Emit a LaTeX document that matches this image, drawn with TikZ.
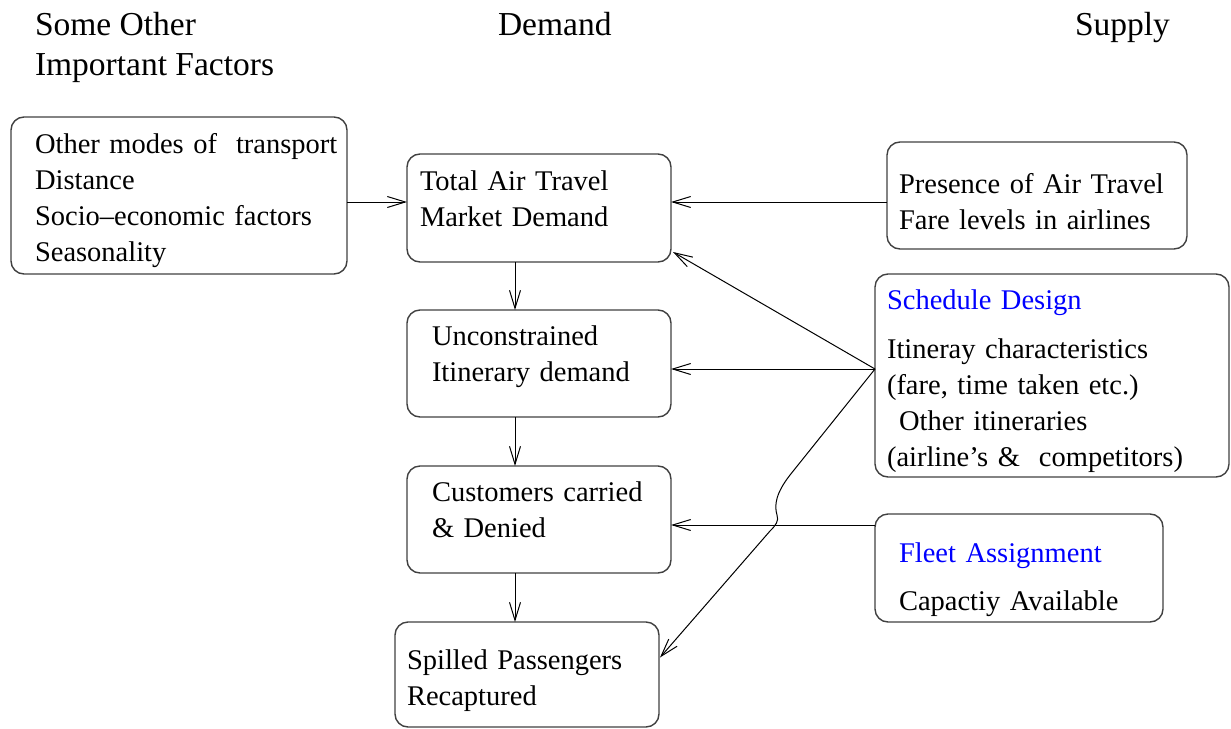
\documentclass[tikz,border=0pt]{standalone}
\usepackage{fontspec}
\setmainfont{Liberation Serif}
\usetikzlibrary{arrows.meta,calc}

\begin{document}
\begin{tikzpicture}[x=0.5pt, y=-0.5pt, auto, outer sep=0pt, >={Straight Barb[length=9pt,width=5.5pt]},
  box/.style={draw=black!75, line width=0.7pt, rounded corners=6.5pt, anchor=north west,
    align=left, inner ysep=0pt, font=\fontsize{14.25pt}{18pt}\selectfont},
  head/.style={anchor=north west, align=left, inner sep=0pt, font=\fontsize{16.75pt}{20pt}\selectfont},
  link/.style={->, line width=0.5pt}]

\useasboundingbox (0, 0) rectangle (1231, 728);

% column headings
\node[head] at (35, 12) (H_OTHER) {Some Other\\Important Factors};
\node[head] at (498, 12) (H_DEMAND) {Demand};
\node[head] at (1075, 12) (H_SUPPLY) {Supply};

% demand chain
\node[box, text width=144pt, inner xsep=12pt, text height=18pt, text depth=60.5pt] at (11, 117) (FACTORS)
  {\mbox{Other modes of\ \ transport}\\Distance\\Socio--economic factors\\Seasonality};
\node[box, text width=119pt, inner xsep=6.5pt, text height=18pt, text depth=36pt] at (407, 154) (TOTAL)
  {Total Air Travel\\Market Demand};
\node[box, text width=107pt, inner xsep=12.5pt, text height=17.5pt, text depth=36pt] at (407, 310) (UNCONSTR)
  {Unconstrained\\Itinerary demand};
\node[box, text width=107pt, inner xsep=12.5pt, text height=17.5pt, text depth=36pt] at (407, 466) (CUSTOMERS)
  {\mbox{Customers carried}\\\& Denied};
\node[box, text width=120pt, inner xsep=6pt, text height=23.5pt, text depth=29pt] at (395, 622) (SPILLED)
  {Spilled Passengers\\Recaptured};

% supply side
\node[box, text width=138pt, inner xsep=6pt, text height=25.5pt, text depth=28pt] at (887, 142) (PRESENCE)
  {Presence of Air Travel\\Fare levels in airlines};
\node[box, text width=165pt, inner xsep=6pt, text height=17.5pt, text depth=84pt] at (875, 274) (SCHEDULE)
  {\textcolor{blue}{Schedule Design}\\[6.5pt]Itineray characteristics\\(fare, time taken etc.)\\
   \hspace*{6pt}Other itineraries\\(airline’s \&\ \ competitors)};
\node[box, text width=120pt, inner xsep=12pt, text height=24pt, text depth=30pt] at (875, 514) (FLEET)
  {\textcolor{blue}{Fleet Assignment}\\[6pt]Capactiy Available};

\coordinate (TW) at ($(TOTAL.west)+(0,-6)$);
\coordinate (TE) at ($(TOTAL.east)+(0,-6)$);
\coordinate (HUB) at ($(SCHEDULE.west)+(0,-6.5)$);
\coordinate (FW) at ($(FLEET.north west)+(0,11)$);

\draw [link] (FACTORS.east |- TW) -- (TW);
\draw [link] (PRESENCE.west |- TE) -- (TE);
\draw [link] ($(TOTAL.south)+(-24,0)$) -- ($(UNCONSTR.north)+(-24,0)$);
\draw [link] ($(UNCONSTR.south)+(-24,0)$) -- ($(CUSTOMERS.north)+(-24,0)$);
\draw [link] ($(CUSTOMERS.south)+(-24,0)$) -- ($(SPILLED.north)+(-12,0)$);

\draw [link] (HUB) -- (UNCONSTR.east |- HUB);
\draw [link] (HUB) -- ($(TOTAL.south east)+(2,-10)$);
\draw [link] (HUB) -- (790, 475) .. controls (776, 493) and (774, 505) .. (777, 515)
  .. controls (779, 521) and (776, 525) .. (770, 531) -- ($(SPILLED.east)+(1,-17)$);
\draw [link] (FW) -- (CUSTOMERS.east |- FW);
\end{tikzpicture}
\end{document}
